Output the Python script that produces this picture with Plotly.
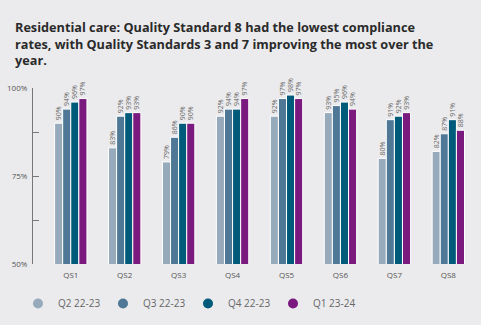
import plotly.graph_objects as go

categories = ["QS1", "QS2", "QS3", "QS4", "QS5", "QS6", "QS7", "QS8"]
series_names = ["Q2 22-23", "Q3 22-23", "Q4 22-23", "Q1 23-24"]
q2_2223 = [90, 83, 79, 92, 92, 93, 80, 82]
q3_2223 = [94, 92, 86, 94, 97, 95, 91, 87]
q4_2223 = [96, 93, 90, 94, 98, 96, 92, 91]
q1_2324 = [97, 93, 90, 97, 97, 94, 93, 88]
colors = ["#97AABB", "#4E7895", "#005A7A", "#7A1A7E"]
y_tickvals = [50, 62.5, 75, 87.5, 100]
y_ticktext = ["50%", "", "75%", "", "100%"]

all_series = [q2_2223, q3_2223, q4_2223, q1_2324]
fig = go.Figure()
for name, vals, col in zip(series_names, all_series, colors):
    fig.add_trace(go.Bar(
        x=categories, y=vals, name=name, showlegend=False,
        marker=dict(color=col, line=dict(color="white", width=1)),
        text=[f"{v}%" for v in vals], textposition="outside", textangle=-90,
        constraintext="none",
        textfont=dict(size=7, color="#6b6b6b", family="Open Sans"),
        cliponaxis=False,
    ))
for name, col in zip(series_names, colors):
    fig.add_trace(go.Scatter(
        x=[None], y=[None], mode="markers", name=name,
        marker=dict(symbol="circle", size=10, color=col),
    ))

fig.update_layout(
    width=481, height=325,
    paper_bgcolor="#EBEBED", plot_bgcolor="#EBEBED",
    margin=dict(l=33, r=3, t=88, b=61, autoexpand=False),
    barmode="group", bargap=0.4, bargroupgap=0,
    font=dict(family="Open Sans", color="#555555"),
    title=dict(
        text="Residential care: Quality Standard 8 had the lowest compliance<br>rates, with Quality Standards 3 and 7 improving the most over the<br>year.",
        x=15/481, xanchor="left", y=1-32/325, yanchor="top",
        font=dict(family="Open Sans", size=12.7, color="#2a2a2a", weight="bold"),
    ),
    xaxis=dict(range=[-0.7, 7.55], showline=False, ticks="", showgrid=False,
               ticklabelstandoff=5,
               tickfont=dict(size=8, color="#555555")),
    yaxis=dict(range=[50, 100], tickvals=y_tickvals, ticktext=y_ticktext,
               showgrid=False, zeroline=False, showline=True, linecolor="#777777",
               linewidth=1, ticks="inside", ticklen=6, tickcolor="#777777",
               ticklabelstandoff=3,
               tickfont=dict(size=8, color="#555555")),
    legend=dict(orientation="h", xref="container", x=18/481, xanchor="left",
                yref="container", y=1-289/325, yanchor="top",
                font=dict(size=10, color="#666666"), entrywidth=40,
                bgcolor="rgba(0,0,0,0)"),
)
fig.write_html("out.html")
